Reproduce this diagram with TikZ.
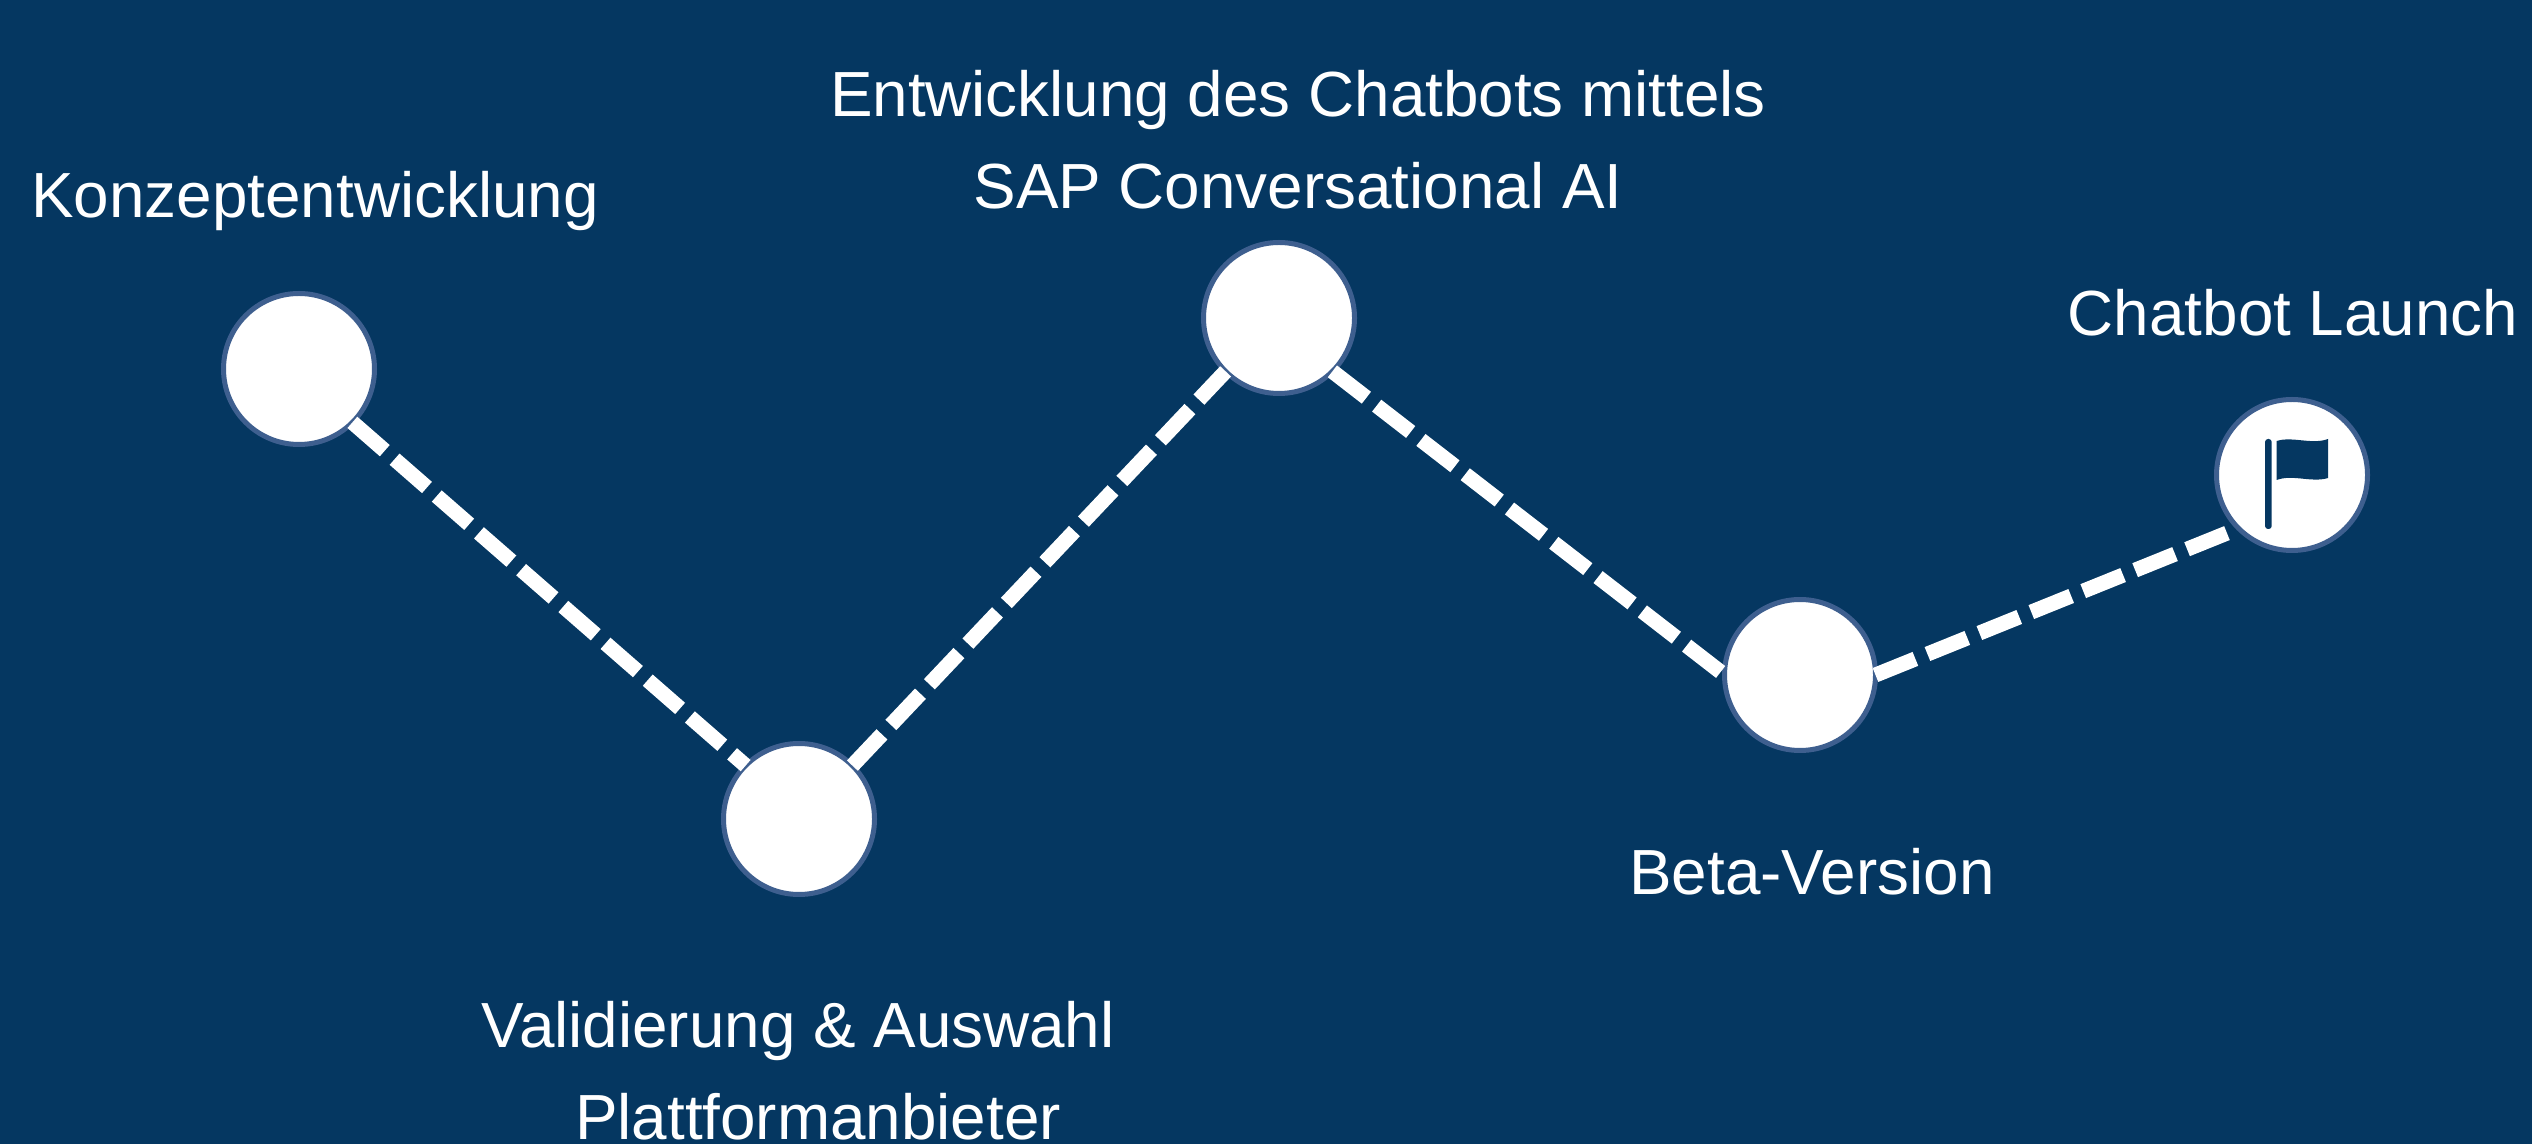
\documentclass[tikz,border=0pt]{standalone}
\usepackage{fontspec}
\setmainfont{Liberation Sans}
\definecolor{navy}{HTML}{053761}
\definecolor{ring}{HTML}{3E5F8F}
\tikzset{
	milestone/.style={draw=ring,circle,fill=white,line width=0.05cm,inner sep=0,outer sep=0,minimum size=1.51cm},
	caption/.style={text=white,inner sep=0,align=center,font=\fontsize{18.15pt}{26.1pt}\selectfont},
	route/.style={draw=white,line width=0.15cm,dash pattern=on 0.43cm off 0.13cm}
}

\begin{document}
\begin{tikzpicture}
	\useasboundingbox (0,0) rectangle (25.32,11.43);
	\fill[navy] (-0.1,-0.1) rectangle (25.42,11.53);
	\node[milestone] (konzept) at (2.99,7.74) {};
	\node[milestone] (validierung) at (7.99,3.24) {};
	\node[milestone] (entwicklung) at (12.79,8.25) {};
	\node[milestone] (beta) at (18.00,4.68) {};
	\node[milestone] (launch) at (22.92,6.68) {};
	\node[caption] (konzepttext) at (3.15,9.42) {Konzeptentwicklung};
	\node[caption] (validierungtext) at (7.98,0.72) {Validierung \& Auswahl\\\hspace*{0.40cm}Plattformanbieter};
	\node[caption] (entwicklungtext) at (12.98,10.03) {Entwicklung des Chatbots mittels\\SAP Conversational AI};
	\node[caption] (betatext) at (18.12,2.71) {Beta-Version};
	\node[caption] (launchtext) at (22.93,8.30) {Chatbot Launch};
	\draw[route] (konzept.south east) -- (validierung.north west);
	\draw[route] (validierung.north east) -- (entwicklung.south west);
	\draw[route] (entwicklung.south east) -- (beta.west);
	\draw[route] (beta.east) -- (launch.south west);
	% flag icon
	\begin{scope}[shift={(launch.center)}]
		\fill[navy,rounded corners=0.03cm] (-0.27,-0.54) -- (-0.27,0.36) -- (-0.203,0.36) -- (-0.203,-0.54) -- cycle;
		\fill[navy] (-0.153,0.34) .. controls (0,0.39) and (0.2,0.30) .. (0.36,0.36) -- (0.36,-0.03) .. controls (0.2,-0.08) and (0,0.01) .. (-0.153,-0.05) -- cycle;
	\end{scope}
\end{tikzpicture}
\end{document}
